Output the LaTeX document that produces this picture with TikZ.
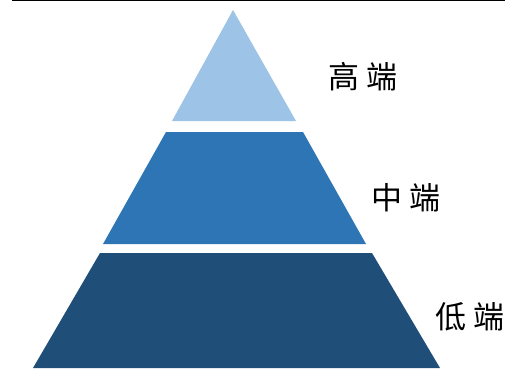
\documentclass[tikz,border=0pt]{standalone}
\usepackage{fontspec}
\newfontfamily\cjk{Noto Sans CJK SC}
\definecolor{tierhigh}{HTML}{9DC3E6}
\definecolor{tiermid}{HTML}{2E75B6}
\definecolor{tierlow}{HTML}{1F4E79}
\tikzset{
  tier/.style={draw=white, line width=0.6pt},
  tierlabel/.style={font=\cjk\fontsize{31}{31}\selectfont, text=black, inner sep=0pt, anchor=center}
}
\begin{document}
\begin{tikzpicture}[x=1pt,y=-1pt]
\useasboundingbox (0,0) rectangle (505,370);
\coordinate (lineL) at (12,0.65);
\coordinate (lineR) at (505,0.65);
\draw[black, line width=1.3pt] (lineL) -- (lineR);
% top tier
\fill[tierhigh] (233,10) -- (296,121) -- (172,121) -- cycle;
% middle tier
\fill[tiermid] (166,132) -- (303,132) -- (366,244) -- (103,244) -- cycle;
% bottom tier
\fill[tierlow] (100,253) -- (372,253) -- (440,368) -- (33,368) -- cycle;
\node[tierlabel] (high) at (363,77) {高\hspace{7pt}端};
\node[tierlabel] (mid) at (406,198) {中\hspace{7pt}端};
\node[tierlabel] (low) at (470,317) {低\hspace{7pt}端};
\end{tikzpicture}
\end{document}
